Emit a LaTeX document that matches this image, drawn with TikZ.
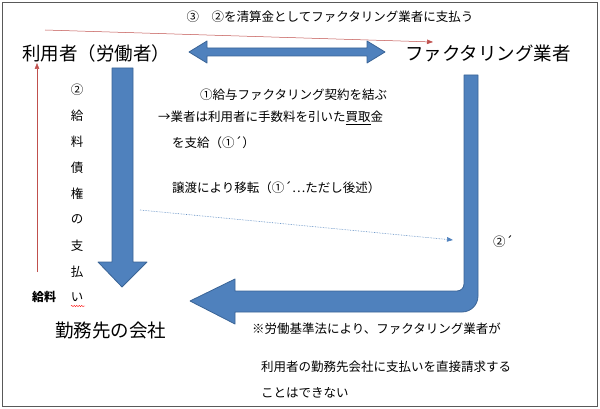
\documentclass[tikz,border=0pt]{standalone}
\usepackage{fontspec}
\newfontfamily\cjk{Noto Sans CJK JP}
\usetikzlibrary{arrows.meta,decorations.pathmorphing}
\definecolor{fillb}{HTML}{4F81BD}
\definecolor{lineb}{HTML}{3A6496}
\definecolor{redl}{HTML}{C0504D}
\begin{document}
\begin{tikzpicture}[x=1pt,y=-1pt,
  txt/.style={font=\cjk\fontsize{12.5}{14}\selectfont,inner sep=0pt,anchor=west},
  big/.style={font=\cjk\fontsize{18.5}{21}\selectfont,inner sep=0pt,anchor=west},
  vt/.style={font=\cjk\fontsize{12.5}{14}\selectfont,inner sep=0pt},
  blk/.style={fill=fillb,draw=lineb,line width=0.8pt,line join=round}]
\useasboundingbox (0,0) rectangle (600,409);
\draw[gray!70!black,line width=0.8pt] (2,2) rectangle (597,406);
% texts
\node[vt] (top) at (330,17) {③\hspace{1em}②を清算金としてファクタリング業者に支払う};
\node[big] (user) at (22,53) {利用者（労働者）};
\node[big] (fact) at (405,53) {ファクタリング業者};
\node[big] (comp) at (55,331) {勤務先の会社};
\node[txt] (c1) at (200,95) {①給与ファクタリング契約を結ぶ};
\node[txt] (c2) at (158,118) {→業者は利用者に手数料を引いた\underline{買取}金};
\node[txt] (c3) at (172,143) {を支給（①´）};
\node[txt] (c4) at (172,188) {譲渡により移転（①´…ただし後述）};
\node[txt] (d2) at (493,242) {②´};
\node[txt] (n1) at (252,329) {※労働基準法により、ファクタリング業者が};
\node[txt] (n2) at (261,367) {利用者の勤務先会社に支払いを直接請求する};
\node[txt] (n3) at (261,393) {ことはできない};
\node[txt,font=\cjk\bfseries\fontsize{12}{14}\selectfont] (kyu) at (32,297) {給料};
\foreach \c [count=\i from 0] in {②,給,料,債,権,の,支,払,い}
  \node[vt] (v\i) at (77,90+25.9*\i) {\c};
% red arrows
\coordinate (ra) at (45,30);
\coordinate (rb) at (433,42);
\draw[redl,line width=0.5pt,-{Triangle[length=6pt,width=4.5pt]}] (ra) -- (rb);
\coordinate (rc) at (37,272);
\coordinate (rd) at (37,63);
\draw[redl,line width=0.5pt,-{Triangle[length=6pt,width=4.5pt]}] (rc) -- (rd);
% dotted arrow
\coordinate (da) at (140,210);
\coordinate (db) at (453,240);
\draw[fillb,densely dotted,line width=0.6pt,-{Triangle[length=6pt,width=4.5pt]}] (da) -- (db);
% double arrow
\draw[blk] (189,52) -- (207,41) -- (207,48) -- (367,48) -- (367,41) -- (385,52)
  -- (367,63) -- (367,56) -- (207,56) -- (207,63) -- cycle;
% left down arrow
\draw[blk] (112,68) -- (133,68) -- (133,262) -- (147,262) -- (122,287) -- (98,262) -- (112,262) -- cycle;
% right bent arrow
\draw[blk] (464,75) -- (478,75) -- (478,296) to[out=-90,in=0] (462,312)
  -- (235,312) -- (235,324) -- (190,301) -- (235,279) -- (235,291) -- (457,291)
  to[out=0,in=-90] (464,284) -- cycle;
\coordinate (wa) at (71,306);
\coordinate (wb) at (85,306);
\draw[red,decorate,decoration={snake,amplitude=0.6pt,segment length=2.5pt},line width=0.4pt] (wa) -- (wb);
\end{tikzpicture}
\end{document}
